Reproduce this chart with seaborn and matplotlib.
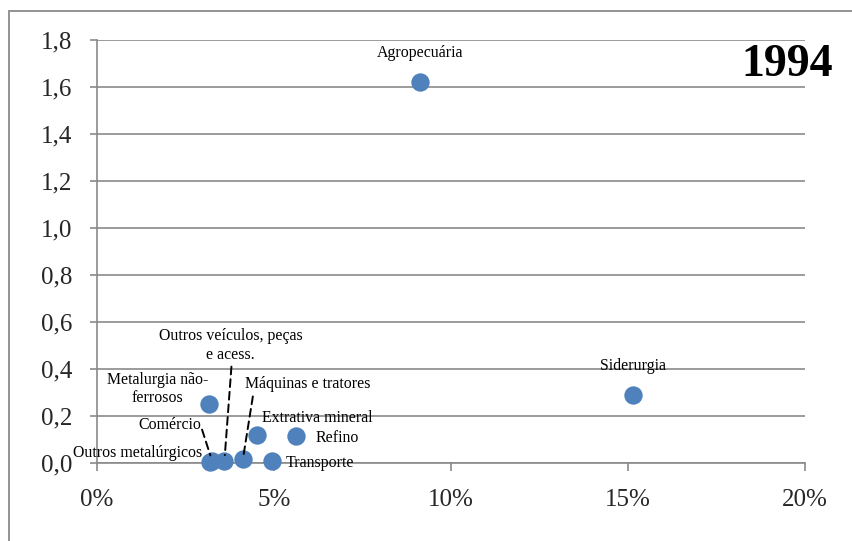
import matplotlib
matplotlib.use("Agg")
import matplotlib.pyplot as plt
from matplotlib.patches import Rectangle
from matplotlib.ticker import FuncFormatter, MultipleLocator
import seaborn as sns
import pandas as pd

# Sector data: share on the x axis (fraction), index value on the y axis
sectors = [
    "Agropecuária", "Siderurgia", "Metalurgia não-\nferrosos",
    "Outros veículos, peças\ne acess.", "Máquinas e tratores", "Comércio",
    "Outros metalúrgicos", "Extrativa mineral", "Refino", "Transporte",
]
share = [0.0912, 0.1514, 0.0316, 0.0360, 0.0412, 0.0325, 0.0319, 0.0452, 0.0562, 0.0494]
value = [1.62, 0.29, 0.25, 0.010, 0.015, 0.010, 0.005, 0.12, 0.115, 0.010]
year_label = "1994"

y_ticks = [0.0, 0.2, 0.4, 0.6, 0.8, 1.0, 1.2, 1.4, 1.6, 1.8]

df = pd.DataFrame({"setor": sectors, "x": share, "y": value})

# label placement: (dx, dy) in pixels, horizontal alignment
label_layout = {
    "Agropecuária": (0, 29, "center"),
    "Siderurgia": (0, 29, "center"),
    "Metalurgia não-\nferrosos": (-51, 15, "center"),
    "Outros veículos, peças\ne acess.": (6, 115, "center"),
    "Máquinas e tratores": (65, 75, "center"),
    "Comércio": (-42, 36, "center"),
    "Outros metalúrgicos": (-8, 9, "right"),
    "Extrativa mineral": (5, 17, "left"),
    "Refino": (20, -2, "left"),
    "Transporte": (14, -2, "left"),
}
# dashed leader lines: start offset from the point, in pixels
leaders = {
    "Comércio": (-10, 31),
    "Outros veículos, peças\ne acess.": (7, 94),
    "Máquinas e tratores": (10, 63),
}

sns.set_theme(style="white")
plt.rcParams["font.family"] = ["Liberation Serif", "DejaVu Serif"]

grey = "#8a8a8a"
blue = "#4F81BD"

fig = plt.figure(figsize=(8.52, 5.41), dpi=100)
ax = fig.add_axes([97 / 852, 1 - 463 / 541, (805 - 97) / 852, (463 - 40) / 541])

sns.scatterplot(data=df, x="x", y="y", ax=ax, s=175, color=blue,
                edgecolor=blue, linewidth=0, clip_on=False, zorder=4)

ax.set_xlim(0, 0.20)
ax.set_ylim(0, 1.8)
ax.xaxis.set_major_locator(MultipleLocator(0.05))
ax.set_yticks(y_ticks)
ax.xaxis.set_major_formatter(FuncFormatter(lambda v, p: f"{v * 100:.0f}%"))
ax.yaxis.set_major_formatter(FuncFormatter(lambda v, p: f"{v:.1f}".replace(".", ",")))
ax.set_xlabel("")
ax.set_ylabel("")

ax.grid(axis="y", color=grey, linewidth=1.2)
ax.grid(axis="x", visible=False)
ax.set_axisbelow(True)
for side in ("top", "right"):
    ax.spines[side].set_visible(False)
for side in ("left", "bottom"):
    ax.spines[side].set_color(grey)
    ax.spines[side].set_linewidth(1.2)

ax.tick_params(axis="y", direction="out", length=5, width=1.2, color=grey,
               pad=13, labelsize=18, left=True)
ax.tick_params(axis="x", direction="out", length=6, width=1.2, color=grey,
               pad=13, labelsize=18, bottom=True)

for name, x, y in zip(sectors, share, value):
    dx, dy, ha = label_layout[name]
    ax.annotate(name, xy=(x, y), xytext=(dx, dy), textcoords="offset pixels",
                ha=ha, va="center", fontsize=11.4, multialignment="center",
                color="black", zorder=5)
    if name in leaders:
        lx, ly = leaders[name]
        ax.annotate("", xy=(x, y), xytext=(lx, ly), textcoords="offset pixels",
                    arrowprops=dict(arrowstyle="-", linestyle=(0, (4, 2.5)),
                                    color="black", lw=1.4,
                                    shrinkA=0, shrinkB=4),
                    zorder=5)

fig.text(833 / 852, 1 - 65 / 541, year_label, ha="right", va="center",
         fontsize=33, fontweight="bold", color="black")

# chart frame
fig.patches.append(Rectangle((9 / 852, -0.2), 1.2, 1.2 - 11 / 541,
                             transform=fig.transFigure, fill=False,
                             edgecolor=grey, linewidth=1.3))

fig.savefig("out.png", dpi=100, facecolor="white")
